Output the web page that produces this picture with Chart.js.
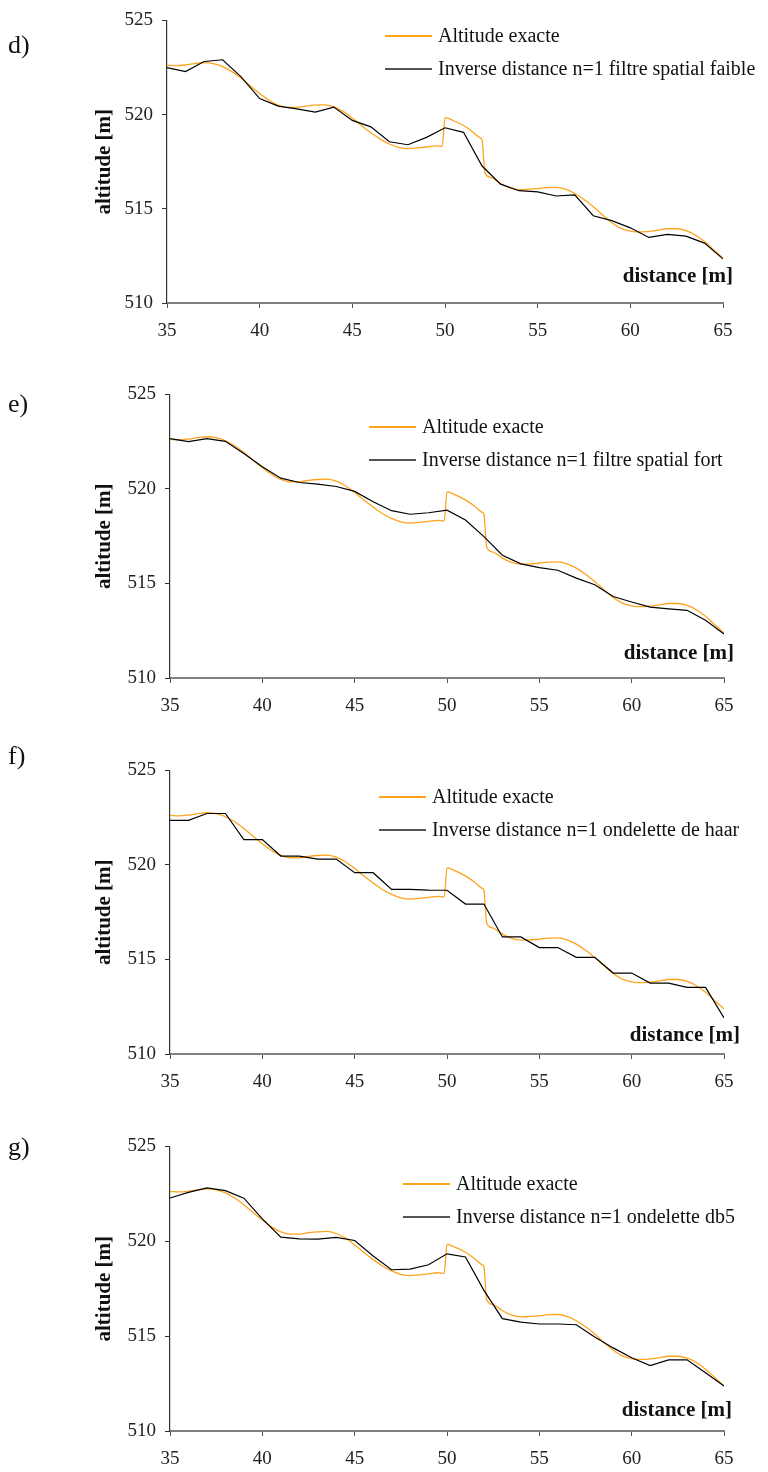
<!DOCTYPE html>
<html>
<head>
<meta charset="utf-8">
<script src="https://cdn.jsdelivr.net/npm/chart.js@4.4.0/dist/chart.umd.min.js"></script>
<style>
  body { margin: 0; background: #fff; font-family: 'Liberation Serif', 'Times New Roman', serif; color: #111; }
  #page { position: relative; width: 768px; height: 1472px; overflow: hidden; }
  .panel { position: absolute; left: 0; width: 768px; }
  .panel canvas { position: absolute; left: 0; top: 0; }
  .txt { position: absolute; white-space: nowrap; line-height: 1; }
  .letter { font-size: 26px; }
  .leg { font-size: 20px; }
  .legline { position: absolute; }
  .dist { font-size: 21px; font-weight: bold; text-align: right; }
</style>
</head>
<body>
<div id="page"></div>
<script>
/* données : profil d'altitude le long de la distance */
const distances = [35, 36, 37, 38, 39, 40, 41, 42, 43, 44, 45, 46, 47, 48, 49, 50,
                   51, 52, 53, 54, 55, 56, 57, 58, 59, 60, 61, 62, 63, 64, 65];

const exactX = [35, 35.5, 36, 36.5, 37, 37.5, 38, 38.5, 39, 39.5, 40, 40.5, 41, 41.5, 42, 42.5,
                43, 43.5, 44, 44.5, 45, 45.5, 46, 46.5, 47, 47.5, 48, 48.5, 49, 49.5, 49.85, 50,
                50.5, 51, 51.5, 51.9, 52, 52.15, 52.5, 53, 53.5, 54, 54.5, 55, 55.5, 56, 56.5,
                57, 57.5, 58, 58.5, 59, 59.5, 60, 60.5, 61, 61.5, 62, 62.5, 63, 63.5, 64, 64.5, 65];
const exactY = [522.62, 522.60, 522.64, 522.71, 522.76, 522.71, 522.55, 522.28, 521.93, 521.52,
                521.12, 520.76, 520.50, 520.38, 520.38, 520.45, 520.50, 520.52, 520.41, 520.17,
                519.81, 519.41, 519.04, 518.70, 518.44, 518.26, 518.19, 518.23, 518.28, 518.34,
                518.31, 519.84, 519.66, 519.42, 519.08, 518.76, 518.66, 516.92, 516.66, 516.34,
                516.11, 516.02, 516.04, 516.07, 516.13, 516.14, 516.04, 515.81, 515.49, 515.11,
                514.67, 514.26, 513.96, 513.82, 513.77, 513.80, 513.87, 513.94, 513.94, 513.84,
                513.61, 513.26, 512.82, 512.38];

const filtreFaible = [522.49, 522.28, 522.82, 522.91, 522.00, 520.85, 520.45, 520.30, 520.13, 520.40,
                      519.69, 519.35, 518.56, 518.40, 518.79, 519.30, 519.06, 517.27, 516.31, 515.96,
                      515.90, 515.68, 515.74, 514.63, 514.37, 513.99, 513.48, 513.64, 513.55, 513.18, 512.34];
const filtreFort = [522.66, 522.50, 522.66, 522.52, 521.87, 521.17, 520.57, 520.34, 520.25, 520.13,
                    519.87, 519.32, 518.85, 518.66, 518.74, 518.88, 518.36, 517.48, 516.49, 516.04,
                    515.84, 515.70, 515.28, 514.93, 514.31, 514.02, 513.75, 513.66, 513.58, 513.05, 512.33];
const haar = [522.36, 522.36, 522.72, 522.72, 521.34, 521.34, 520.47, 520.47, 520.31, 520.31,
              519.59, 519.59, 518.71, 518.71, 518.67, 518.66, 517.93, 517.93, 516.19, 516.19,
              515.63, 515.63, 515.11, 515.11, 514.28, 514.28, 513.75, 513.75, 513.52, 513.52, 511.91];
const db5 = [522.28, 522.58, 522.81, 522.67, 522.27, 521.18, 520.22, 520.13, 520.11, 520.20,
             520.04, 519.22, 518.50, 518.53, 518.76, 519.34, 519.17, 517.41, 515.92, 515.74,
             515.64, 515.64, 515.60, 514.96, 514.38, 513.86, 513.45, 513.75, 513.75, 513.07, 512.37];

const xTicks = [35, 40, 45, 50, 55, 60, 65];
const yTicks = [510, 515, 520, 525];

const exactLabel = 'Altitude exacte';
const panelLetters = ['d)', 'e)', 'f)', 'g)'];
const seriesLabels = ['Inverse distance n=1 filtre spatial faible',
                      'Inverse distance n=1 filtre spatial fort',
                      'Inverse distance n=1 ondelette de haar',
                      'Inverse distance n=1 ondelette db5'];
const seriesValues = [filtreFaible, filtreFort, haar, db5];

const ORANGE = '#ffa31f';

// mise en page de chaque panneau (zone du graphe en px)
const layouts = [
  { area: { left: 167, right: 723, top: 20,   bottom: 303  }, letterY: 47,   legend: { x: 385, y: 36 },  dist: { right: 733, y: 277 } },
  { area: { left: 170, right: 724, top: 394,  bottom: 678  }, letterY: 406,  legend: { x: 369, y: 427 }, dist: { right: 734, y: 654 } },
  { area: { left: 170, right: 724, top: 770,  bottom: 1054 }, letterY: 758,  legend: { x: 379, y: 797 }, dist: { right: 740, y: 1036 } },
  { area: { left: 170, right: 724, top: 1146, bottom: 1431 }, letterY: 1149, legend: { x: 403, y: 1184 }, dist: { right: 732, y: 1411 } }
];

Chart.defaults.font.family = "'Liberation Serif', 'Times New Roman', serif";
Chart.defaults.color = '#222';

const page = document.getElementById('page');

function addText(cls, text, css) {
  const el = document.createElement('div');
  el.className = 'txt ' + cls;
  el.textContent = text;
  Object.assign(el.style, css);
  page.appendChild(el);
  return el;
}

function addLegendLine(x, y, len, color, width) {
  const el = document.createElement('div');
  el.className = 'legline';
  Object.assign(el.style, { left: x + 'px', top: Math.round(y - width / 2) + 'px', width: len + 'px', height: width + 'px', background: color });
  page.appendChild(el);
}

layouts.forEach((lay, k) => {
  const a = lay.area;
  const top = a.top - 20;
  const h = a.bottom - top + 50;

  const box = document.createElement('div');
  box.className = 'panel';
  box.style.top = top + 'px';
  box.style.height = h + 'px';
  const cv = document.createElement('canvas');
  cv.width = 768; cv.height = h;
  cv.style.width = '768px'; cv.style.height = h + 'px';
  box.appendChild(cv);
  page.appendChild(box);

  new Chart(cv, {
    type: 'line',
    data: {
      datasets: [
        { label: exactLabel, data: exactX.map((x, i) => ({ x, y: exactY[i] })),
          borderColor: ORANGE, borderWidth: 1.3, pointRadius: 0, cubicInterpolationMode: 'monotone', order: 1 },
        { label: seriesLabels[k], data: distances.map((x, i) => ({ x, y: seriesValues[k][i] })),
          borderColor: '#000', borderWidth: 1.2, pointRadius: 0, tension: 0, order: 0 }
      ]
    },
    options: {
      responsive: false, animation: false, devicePixelRatio: 1,
      layout: { padding: { top: 20, left: 92, right: 768 - a.right, bottom: 0 } },
      plugins: { legend: { display: false }, tooltip: { enabled: false } },
      scales: {
        x: {
          type: 'linear', min: 35, max: 65,
          afterBuildTicks: s => { s.ticks = xTicks.map(v => ({ value: v })); },
          afterFit: s => { s.height = 50; },
          ticks: { font: { size: 19 }, padding: 12, maxRotation: 0 },
          grid: { drawOnChartArea: false, tickLength: 5, tickColor: '#555' },
          border: { color: '#808080', width: 2 }
        },
        y: {
          type: 'linear', min: 510, max: 525,
          afterBuildTicks: s => { s.ticks = yTicks.map(v => ({ value: v })); },
          afterFit: s => { s.width = a.left - 92; },
          ticks: { font: { size: 19 }, padding: 9 },
          grid: { drawOnChartArea: false, tickLength: 5, tickColor: '#333' },
          border: { color: '#333', width: 1.2 },
          title: { display: true, text: 'altitude [m]', font: { size: 21, weight: 'bold' }, padding: 0, color: '#111' }
        }
      }
    }
  });

  // lettre du panneau
  addText('letter', panelLetters[k], { left: '8px', top: (lay.letterY - 15) + 'px' });

  // légende
  const L = lay.legend;
  addLegendLine(L.x, L.y, 47, ORANGE, 2);
  addText('leg', exactLabel, { left: (L.x + 53) + 'px', top: (L.y - 11) + 'px' });
  addLegendLine(L.x, L.y + 33, 47, '#555', 2);
  addText('leg', seriesLabels[k], { left: (L.x + 53) + 'px', top: (L.y + 33 - 11) + 'px' });

  // titre de l'axe x, dans la zone du graphe
  addText('dist', 'distance [m]', { right: (768 - lay.dist.right) + 'px', top: (lay.dist.y - 12) + 'px' });
});
</script>
</body>
</html>
